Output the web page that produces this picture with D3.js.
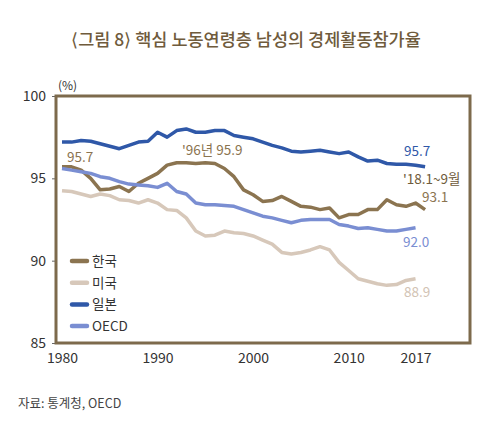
<!DOCTYPE html>
<html>
<head>
<meta charset="utf-8">
<script src="https://cdn.jsdelivr.net/npm/d3@7"></script>
<style>
  body { margin: 0; background: #fff; font-family: "Noto Sans CJK KR", "Noto Sans", sans-serif; }
  text { font-family: "Noto Sans CJK KR", "Noto Sans", sans-serif; }
</style>
</head>
<body>
<svg id="chart" width="500" height="433"></svg>
<script>
const years = d3.range(1980, 2019);
const korea = [95.7, 95.7, 95.5, 95.0, 94.3, 94.35, 94.5, 94.2, 94.7, 95.0, 95.3, 95.8, 95.95, 95.95, 95.9, 95.95, 95.9, 95.6, 95.1, 94.3, 94.0, 93.6, 93.65, 93.9, 93.6, 93.3, 93.25, 93.1, 93.2, 92.6, 92.8, 92.8, 93.1, 93.1, 93.7, 93.4, 93.3, 93.5, 93.1];
const usa = [94.25, 94.2, 94.05, 93.9, 94.05, 93.95, 93.7, 93.65, 93.5, 93.7, 93.5, 93.1, 93.05, 92.6, 91.8, 91.5, 91.55, 91.8, 91.7, 91.65, 91.5, 91.25, 91.0, 90.5, 90.4, 90.5, 90.65, 90.85, 90.65, 89.9, 89.4, 88.9, 88.75, 88.6, 88.5, 88.55, 88.8, 88.9];
const japan = [97.2, 97.2, 97.3, 97.25, 97.1, 96.95, 96.8, 97.0, 97.2, 97.25, 97.8, 97.5, 97.9, 98.0, 97.8, 97.8, 97.9, 97.9, 97.6, 97.5, 97.4, 97.2, 97.0, 96.85, 96.65, 96.6, 96.65, 96.7, 96.6, 96.5, 96.6, 96.3, 96.05, 96.1, 95.9, 95.85, 95.85, 95.8, 95.7];
const oecd = [95.6, 95.5, 95.4, 95.3, 95.1, 95.0, 94.8, 94.65, 94.6, 94.55, 94.45, 94.7, 94.2, 94.05, 93.5, 93.4, 93.4, 93.35, 93.3, 93.1, 92.9, 92.7, 92.6, 92.45, 92.3, 92.45, 92.5, 92.5, 92.5, 92.2, 92.1, 91.95, 92.0, 91.9, 91.8, 91.8, 91.9, 92.0];
const yTicks = [85, 90, 95, 100];
const xTicks = [1980, 1990, 2000, 2010, 2017];

const series = [
  { name: "한국", values: korea, color: "#8b7450" },
  { name: "미국", values: usa, color: "#d7c8ba" },
  { name: "일본", values: japan, color: "#2f58a8" },
  { name: "OECD", values: oecd, color: "#7a8ed2" }
];

const svg = d3.select("#chart");
const x = d3.scaleLinear().domain([1979.37, 2022.7]).range([56, 470]);
const y = d3.scaleLinear().domain([85, 100]).range([343, 96]);

svg.append("text")
  .attr("x", 246).attr("y", 46)
  .attr("text-anchor", "middle")
  .attr("font-size", 17.5)
  .attr("font-weight", 500)
  .attr("fill", "#6f5b3c")
  .text("⟨그림 8⟩ 핵심 노동연령층 남성의 경제활동참가율");

svg.append("text")
  .attr("x", 58).attr("y", 90)
  .attr("font-size", 12).attr("fill", "#333")
  .text("(%)");

const yAxis = svg.append("g")
  .attr("transform", "translate(56,0)")
  .call(d3.axisLeft(y).tickValues(yTicks).tickSize(4).tickFormat(d3.format("d")));
yAxis.select(".domain").remove();
yAxis.selectAll("line").attr("stroke", "#666");
yAxis.selectAll("text").attr("font-size", 14).attr("fill", "#333").attr("x", -10);

const xAxis = svg.append("g")
  .attr("transform", "translate(0,343)")
  .call(d3.axisBottom(x).tickValues(xTicks).tickSize(0).tickFormat(d3.format("d")));
xAxis.select(".domain").remove();
xAxis.selectAll("text").attr("font-size", 14).attr("fill", "#333").attr("dy", "1.2em");

svg.append("rect")
  .attr("x", 56).attr("y", 96)
  .attr("width", 414).attr("height", 247)
  .attr("fill", "none").attr("stroke", "#7d6a4c").attr("stroke-width", 3);

const line = d3.line()
  .x((d, i) => x(years[i]))
  .y(d => y(d));

series.forEach(s => {
  svg.append("path")
    .attr("d", line(s.values))
    .attr("fill", "none")
    .attr("stroke", s.color)
    .attr("stroke-width", 3.5)
    .attr("stroke-linejoin", "round");
});

// legend
series.forEach((s, i) => {
  const ly = 261 + i * 21.7;
  svg.append("line")
    .attr("x1", 72).attr("x2", 87).attr("y1", ly).attr("y2", ly)
    .attr("stroke", s.color).attr("stroke-width", 4.5).attr("stroke-linecap", "round");
  svg.append("text")
    .attr("x", 92).attr("y", ly + 5)
    .attr("font-size", 13.5).attr("fill", "#333")
    .text(s.name);
});

// annotations
const notes = [
  { t: "95.7", x: 67, y: 162, c: "#8b7450" },
  { t: "'96년 95.9", x: 182, y: 155, c: "#8b7450" },
  { t: "95.7", x: 404, y: 156, c: "#2f58a8" },
  { t: "'18.1~9월", x: 403, y: 184, c: "#6f5b3c" },
  { t: "93.1", x: 422, y: 202, c: "#8b7450" },
  { t: "92.0", x: 403, y: 247, c: "#7a8ed2" },
  { t: "88.9", x: 404, y: 297, c: "#d2c3b4" }
];
notes.forEach(n => {
  svg.append("text")
    .attr("x", n.x).attr("y", n.y)
    .attr("font-size", 13.5).attr("fill", n.c)
    .text(n.t);
});

svg.append("text")
  .attr("x", 18).attr("y", 408)
  .attr("font-size", 12.5).attr("fill", "#444")
  .text("자료: 통계청, OECD");
</script>
</body>
</html>
